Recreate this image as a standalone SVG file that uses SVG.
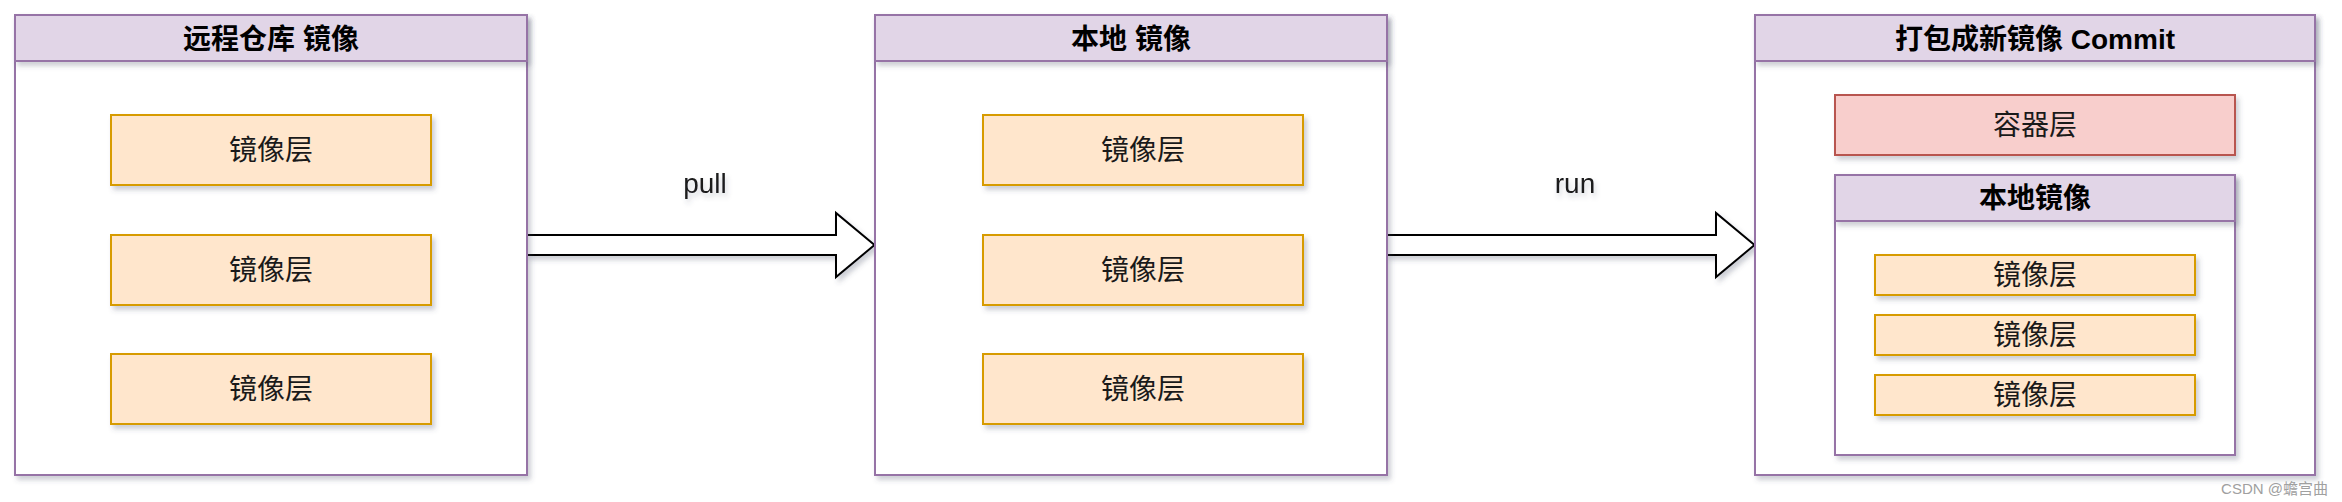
<svg xmlns="http://www.w3.org/2000/svg" width="2342" height="502" viewBox="0 0 2342 502">
<defs>
<filter id="sh" x="-10%" y="-10%" width="130%" height="140%">
<feDropShadow dx="3" dy="4" stdDeviation="2.5" flood-color="#4a4f6a" flood-opacity="0.28"/>
</filter>
<filter id="tsh" x="-20%" y="-30%" width="150%" height="180%">
<feDropShadow dx="2" dy="4" stdDeviation="2.5" flood-color="#4a4f6a" flood-opacity="0.25"/>
</filter>
</defs>
<style>
.body{fill:#ffffff;stroke:#9673a6;stroke-width:2}
.head{fill:#e1d5e7;stroke:#9673a6;stroke-width:2}
.layer{fill:#ffe6cc;stroke:#d79b00;stroke-width:2}
.cont{fill:#f8cecc;stroke:#b85450;stroke-width:2}
.arrow{fill:#ffffff;stroke:#000000;stroke-width:2;stroke-linejoin:miter}
.title{font-family:"Liberation Sans","Noto Sans CJK SC",sans-serif;font-weight:bold;font-size:28px;fill:#000;text-anchor:middle}
.lt{font-family:"Noto Sans CJK SC",sans-serif;font-size:28px;fill:#1a1a1a;text-anchor:middle}
.lbl{font-family:"Liberation Sans","Noto Sans CJK SC",sans-serif;font-size:28px;fill:#1a1a1a;text-anchor:middle}
.wm{font-family:"Liberation Sans","Noto Sans CJK SC",sans-serif;font-size:15px;fill:#a0a0a0;text-anchor:end}
</style>
<g id="connectors">
<path class="arrow" filter="url(#sh)" d="M527,235 L836,235 L836,213 L874.5,245 L836,277 L836,255 L527,255 Z"/>
<text class="lbl" x="705" y="193" filter="url(#tsh)">pull</text>
<path class="arrow" filter="url(#sh)" d="M1387,235 L1716,235 L1716,213 L1754.5,245 L1716,277 L1716,255 L1387,255 Z"/>
<text class="lbl" x="1575" y="193" filter="url(#tsh)">run</text>
</g>
<g id="remote">
<rect class="body" x="15" y="15" width="512" height="460" filter="url(#sh)"/>
<rect class="head" x="15" y="15" width="512" height="46" filter="url(#sh)"/>
<text class="title" x="271" y="49">远程仓库 镜像</text>
<g id="remote-l1"><rect class="layer" x="111" y="115" width="320" height="70" filter="url(#sh)"/><text class="lt" x="271" y="160">镜像层</text></g>
<g id="remote-l2"><rect class="layer" x="111" y="235" width="320" height="70" filter="url(#sh)"/><text class="lt" x="271" y="280">镜像层</text></g>
<g id="remote-l3"><rect class="layer" x="111" y="354" width="320" height="70" filter="url(#sh)"/><text class="lt" x="271" y="399">镜像层</text></g>
</g>
<g id="local">
<rect class="body" x="875" y="15" width="512" height="460" filter="url(#sh)"/>
<rect class="head" x="875" y="15" width="512" height="46" filter="url(#sh)"/>
<text class="title" x="1131" y="49">本地 镜像</text>
<g id="local-l1"><rect class="layer" x="983" y="115" width="320" height="70" filter="url(#sh)"/><text class="lt" x="1143" y="160">镜像层</text></g>
<g id="local-l2"><rect class="layer" x="983" y="235" width="320" height="70" filter="url(#sh)"/><text class="lt" x="1143" y="280">镜像层</text></g>
<g id="local-l3"><rect class="layer" x="983" y="354" width="320" height="70" filter="url(#sh)"/><text class="lt" x="1143" y="399">镜像层</text></g>
</g>
<g id="commit">
<rect class="body" x="1755" y="15" width="560" height="460" filter="url(#sh)"/>
<rect class="head" x="1755" y="15" width="560" height="46" filter="url(#sh)"/>
<text class="title" x="2035" y="49">打包成新镜像 Commit</text>
<g id="container-layer"><rect class="cont" x="1835" y="95" width="400" height="60" filter="url(#sh)"/><text class="lt" x="2035" y="135">容器层</text></g>
<g id="inner-local">
<rect class="body" x="1835" y="175" width="400" height="280" filter="url(#sh)"/>
<rect class="head" x="1835" y="175" width="400" height="46" filter="url(#sh)"/>
<text class="title" x="2035" y="208">本地镜像</text>
<g id="inner-l1"><rect class="layer" x="1875" y="255" width="320" height="40" filter="url(#sh)"/><text class="lt" x="2035" y="285">镜像层</text></g>
<g id="inner-l2"><rect class="layer" x="1875" y="315" width="320" height="40" filter="url(#sh)"/><text class="lt" x="2035" y="345">镜像层</text></g>
<g id="inner-l3"><rect class="layer" x="1875" y="375" width="320" height="40" filter="url(#sh)"/><text class="lt" x="2035" y="405">镜像层</text></g>
</g>
</g>
<text class="wm" x="2328" y="494">CSDN @蟾宫曲</text>
</svg>
